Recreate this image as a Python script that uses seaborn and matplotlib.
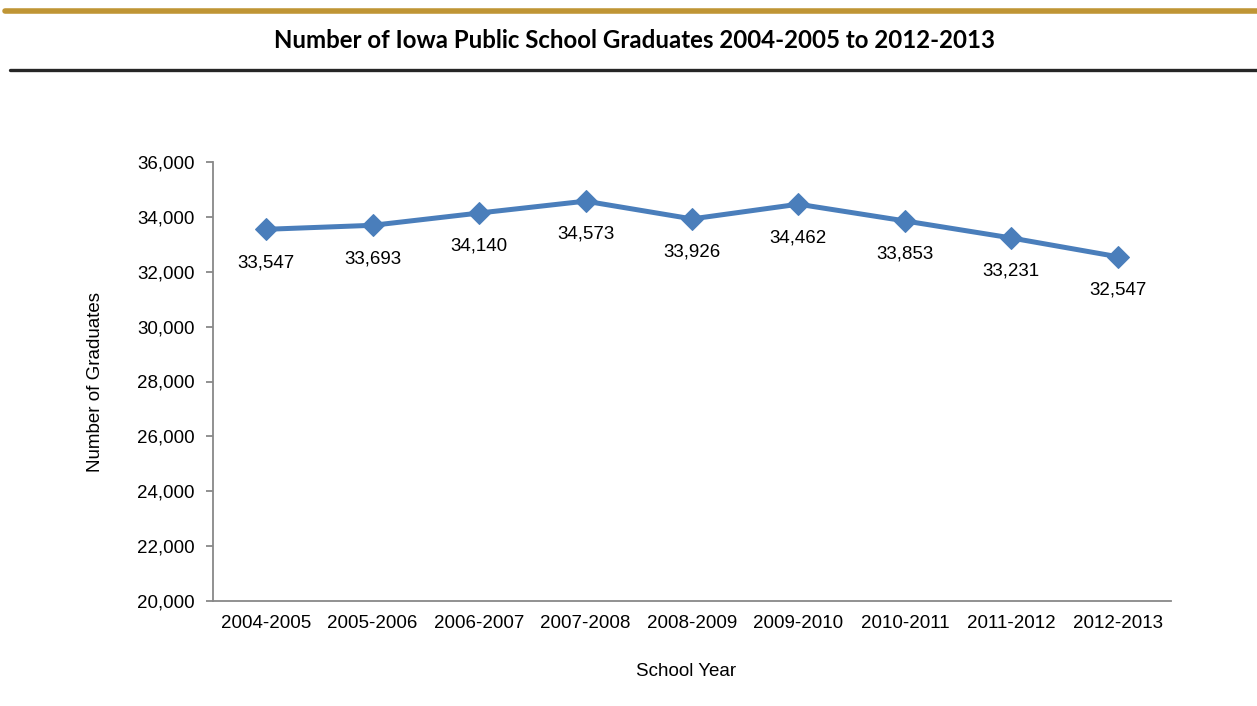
import matplotlib
matplotlib.use('Agg')
import matplotlib.pyplot as plt
import seaborn as sns
import pandas as pd
from matplotlib.lines import Line2D

years = ['2004-2005', '2005-2006', '2006-2007', '2007-2008', '2008-2009',
         '2009-2010', '2010-2011', '2011-2012', '2012-2013']
graduates = [33547, 33693, 34140, 34573, 33926, 34462, 33853, 33231, 32547]
y_ticks = [20000, 22000, 24000, 26000, 28000, 30000, 32000, 34000, 36000]

df = pd.DataFrame({'year': years, 'grads': graduates})

sns.set_style('white', {'text.color': 'black', 'xtick.color': 'black',
                        'ytick.color': 'black', 'axes.labelcolor': 'black'})
plt.rcParams['font.family'] = ['Liberation Sans', 'DejaVu Sans']

fig = plt.figure(figsize=(12.57, 7.06), dpi=100)
ax = fig.add_axes([213/1257, 1-601/706, (1171-213)/1257, (601-162)/706])

blue = '#4A7EBB'
sns.lineplot(data=df, x='year', y='grads', ax=ax, color=blue, linewidth=3.6,
             marker='D', markersize=11, markeredgecolor=blue, sort=False)

for i, v in enumerate(graduates):
    ax.annotate(f'{v:,}', (i, v), xytext=(0, -24), textcoords='offset points',
                ha='center', va='center', fontsize=13.5, color='black')

ax.set_xlim(-0.5, len(years) - 0.5)
ax.set_ylim(20000, 36000)
ax.set_yticks(y_ticks)
ax.set_yticklabels([f'{t:,}' for t in y_ticks], fontsize=13.5)
ax.set_xticks(range(len(years)))
ax.set_xticklabels(years, fontsize=13.5)
ax.set_xticks([i - 0.5 for i in range(len(years) + 1)], minor=True)
ax.tick_params(axis='x', which='major', length=0, pad=10)
ax.tick_params(axis='x', which='minor', length=5, color='#888888', width=1.3, direction='out')
ax.tick_params(axis='y', length=5, color='#888888', labelcolor='black', width=1.3, direction='out', left=True, pad=8)

for s in ['top', 'right']:
    ax.spines[s].set_visible(False)
for s in ['left', 'bottom']:
    ax.spines[s].set_color('#888888')
    ax.spines[s].set_linewidth(1.3)

ax.set_xlabel('School Year', fontsize=13.5)
ax.xaxis.set_label_coords(0.494, -0.141)
ax.set_ylabel('Number of Graduates', fontsize=13.5, labelpad=24)

# header decoration
fig.add_artist(Line2D([5/1257, 1], [1-10.5/706, 1-10.5/706], color='#BF9535', linewidth=4, transform=fig.transFigure))
fig.add_artist(Line2D([10/1257, 1], [1-70/706, 1-70/706], color='#262626', linewidth=2.4, transform=fig.transFigure))
fig.text(634/1257, 1-41/706, 'Number of Iowa Public School Graduates 2004-2005 to 2012-2013',
         ha='center', va='center', fontsize=17.3, fontweight='bold', family=['Lato', 'DejaVu Sans'])

fig.savefig('out.png', dpi=100)
